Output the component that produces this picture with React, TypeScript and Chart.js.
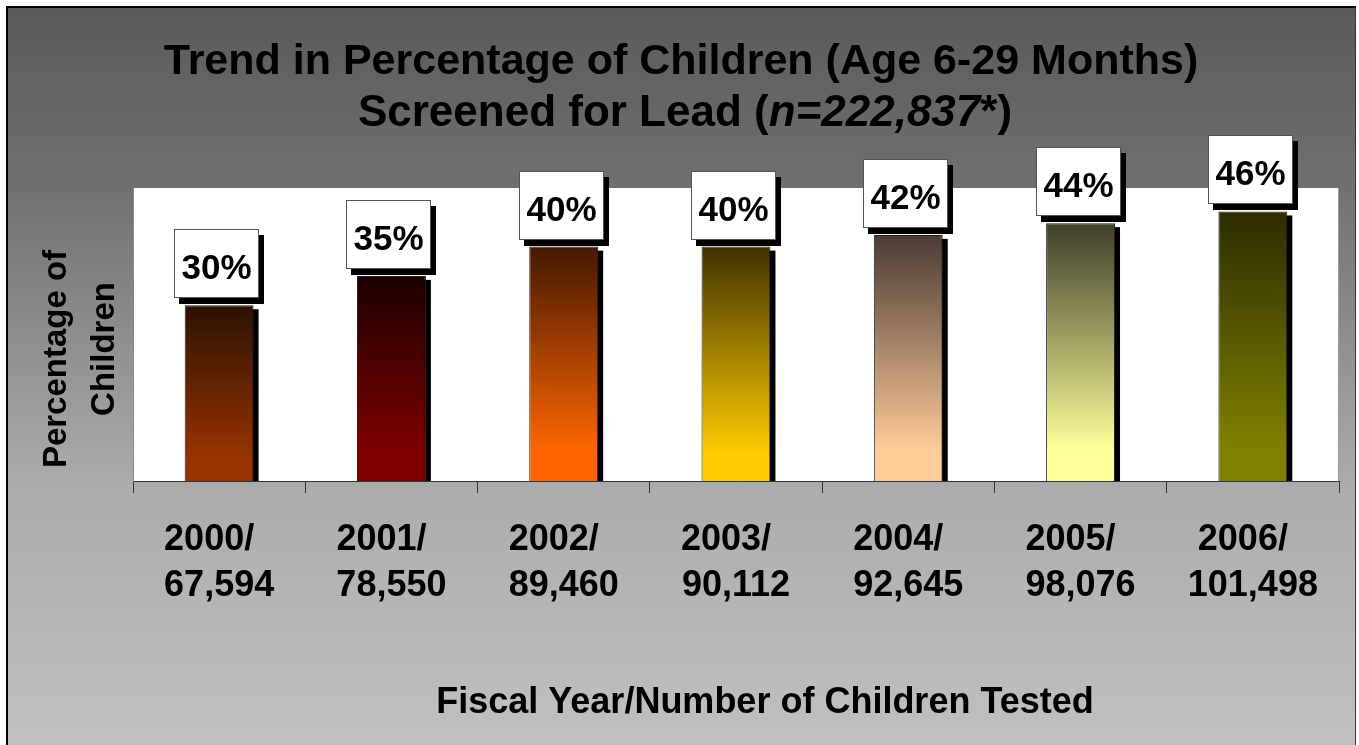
import React, { useEffect, useRef } from 'react';
import { Chart, registerables } from 'chart.js';

Chart.register(...registerables);

// ---- Data ----
const fiscalYears = ['2000', '2001', '2002', '2003', '2004', '2005', '2006'];
const childrenTested = ['67,594', '78,550', '89,460', '90,112', '92,645', '98,076', '101,498'];
const percentScreened = [30, 35, 40, 40, 42, 44, 46];
const barTopColors = ['#2b1200', '#1c0000', '#451800', '#3f3200', '#4a3a34', '#3e3e2a', '#2c2c00'];
const barBottomColors = ['#993300', '#800000', '#ff6600', '#ffcc00', '#ffcc99', '#ffff99', '#808000'];
const yMin = 0;
const yMax = 50;

const titleLine1 = 'Trend in Percentage of Children (Age 6-29 Months)';
const titleLine2Start = 'Screened for Lead (';
const titleLine2Italic = 'n=222,837';
const titleLine2End = '*)';
const yAxisTitle = ['Percentage of', 'Children'];
const xAxisTitle = 'Fiscal Year/Number of Children Tested';

const tickLabels = fiscalYears.map((y, i) => [y + '/  ', childrenTested[i]]);

const FONT = '"Liberation Sans", Arial, Helvetica, sans-serif';
const font = (size: number, italic = false) => `${italic ? 'italic ' : ''}bold ${size}px ${FONT}`;

const CANVAS_W = 1347;
const CANVAS_H = 737;

const decorPlugin = {
  id: 'decor',
  beforeDraw(chart: any) {
    const { ctx, width, height, chartArea } = chart;
    ctx.save();
    const g = ctx.createLinearGradient(0, 0, 0, height);
    g.addColorStop(0, '#5a5a5a');
    g.addColorStop(0.244, '#707070');
    g.addColorStop(0.642, '#ababab');
    g.addColorStop(0.94, '#bdbdbd');
    g.addColorStop(1, '#c0c0c0');
    ctx.fillStyle = g;
    ctx.fillRect(0, 0, width, height);
    ctx.fillStyle = '#ffffff';
    ctx.fillRect(chartArea.left, chartArea.top, chartArea.right - chartArea.left, chartArea.bottom - chartArea.top);
    ctx.strokeStyle = '#9a9a9a';
    ctx.lineWidth = 1;
    ctx.beginPath();
    ctx.moveTo(chartArea.right - 0.5, chartArea.top);
    ctx.lineTo(chartArea.right - 0.5, chartArea.bottom);
    ctx.stroke();
    ctx.restore();
  },
  beforeDatasetsDraw(chart: any) {
    const { ctx } = chart;
    const meta = chart.getDatasetMeta(0);
    ctx.save();
    ctx.fillStyle = '#000000';
    meta.data.forEach((bar: any) => {
      const left = bar.x - bar.width / 2;
      ctx.fillRect(left + 5, bar.y + 4, bar.width, bar.base - bar.y - 4);
    });
    ctx.restore();
  },
  afterDatasetsDraw(chart: any) {
    const { ctx } = chart;
    const meta = chart.getDatasetMeta(0);
    const boxW = 85;
    const boxH = 69;
    ctx.save();
    meta.data.forEach((bar: any, i: number) => {
      const cx = bar.x - 2.5;
      const left = Math.round(cx - boxW / 2);
      const top = Math.round(bar.y - 7 - boxH);
      ctx.fillStyle = '#000000';
      ctx.fillRect(left + 5, top + 6, boxW, boxH);
      ctx.fillStyle = '#ffffff';
      ctx.fillRect(left, top, boxW, boxH);
      ctx.strokeStyle = '#555555';
      ctx.lineWidth = 1;
      ctx.strokeRect(left + 0.5, top + 0.5, boxW - 1, boxH - 1);
      ctx.fillStyle = '#000000';
      ctx.font = font(35);
      ctx.textAlign = 'center';
      ctx.textBaseline = 'alphabetic';
      ctx.fillText(percentScreened[i] + '%', left + boxW / 2, top + 49.5);
    });
    ctx.restore();
  },
  afterDraw(chart: any) {
    const { ctx } = chart;
    ctx.save();
    ctx.fillStyle = '#000000';
    ctx.textBaseline = 'alphabetic';
    // main title
    const cx = 673;
    ctx.textAlign = 'center';
    ctx.font = font(43);
    ctx.fillText(titleLine1, cx, 66);
    ctx.textAlign = 'left';
    ctx.font = font(44);
    const w1 = ctx.measureText(titleLine2Start).width;
    const w3 = ctx.measureText(titleLine2End).width;
    ctx.font = font(44, true);
    const w2 = ctx.measureText(titleLine2Italic).width;
    let x = cx + 4 - (w1 + w2 + w3) / 2;
    ctx.font = font(44);
    ctx.fillText(titleLine2Start, x, 118);
    x += w1;
    ctx.font = font(44, true);
    ctx.fillText(titleLine2Italic, x, 118);
    x += w2;
    ctx.font = font(44);
    ctx.fillText(titleLine2End, x, 118);

    // y axis title (rotated)
    ctx.font = font(33);
    ctx.textAlign = 'center';
    const yTitlePos = [
      { x: 58, y: 351 },
      { x: 106, y: 341 },
    ];
    yAxisTitle.forEach((line, i) => {
      ctx.save();
      ctx.translate(yTitlePos[i].x, yTitlePos[i].y);
      ctx.rotate(-Math.PI / 2);
      ctx.fillText(line, 0, 0);
      ctx.restore();
    });

    // x axis title
    ctx.font = font(36);
    ctx.textAlign = 'center';
    ctx.fillText(xAxisTitle, 757, 705);
    ctx.restore();
  },
};

export default function App() {
  const ref = useRef<HTMLCanvasElement>(null);
  useEffect(() => {
    const canvas = ref.current;
    if (!canvas) return;
    const chart = new Chart(canvas, {
      type: 'bar',
      data: {
        labels: tickLabels,
        datasets: [
          {
            data: percentScreened,
            backgroundColor: (c: any) => {
              const i = c.dataIndex;
              const ch = c.chart;
              if (!ch.chartArea || c.type !== 'data' || !ch.scales.y) return barBottomColors[i];
              const ys = ch.scales.y;
              const top = ys.getPixelForValue(percentScreened[i]);
              const base = ys.getPixelForValue(0);
              const g = ch.ctx.createLinearGradient(0, top, 0, base);
              g.addColorStop(0, barTopColors[i]);
              g.addColorStop(0.88, barBottomColors[i]);
              g.addColorStop(1, barBottomColors[i]);
              return g;
            },
            borderColor: '#222222',
            borderWidth: 1,
            barPercentage: 0.4,
            categoryPercentage: 1,
          },
        ],
      },
      options: {
        responsive: false,
        animation: false,
        devicePixelRatio: 1,
        layout: { padding: { top: 180, left: 0, right: 16, bottom: 0 } },
        plugins: {
          legend: { display: false },
          title: { display: false },
          tooltip: { enabled: false },
        },
        scales: {
          x: {
            offset: true,
            grid: {
              display: true,
              drawOnChartArea: false,
              drawTicks: true,
              tickLength: 12,
              color: '#333333',
              offset: true,
            },
            border: { display: true, color: '#333333', width: 1 },
            ticks: {
              color: '#000000',
              font: { family: FONT, size: 36, weight: 'bold', lineHeight: 1.28 },
              padding: 24,
              maxRotation: 0,
              minRotation: 0,
              autoSkip: false,
            },
            afterFit: (s: any) => {
              s.height = 264;
              s.paddingLeft = 0;
              s.paddingRight = 0;
            },
          },
          y: {
            min: yMin,
            max: yMax,
            grid: { display: false },
            border: { display: true, color: '#888888', width: 1 },
            ticks: { display: false },
            afterFit: (s: any) => {
              s.width = 125;
            },
          },
        },
      },
      plugins: [decorPlugin],
    } as any);
    return () => chart.destroy();
  }, []);

  return (
    <div
      style={{
        position: 'fixed',
        left: 6,
        top: 6,
        width: 1350,
        height: 739,
        boxSizing: 'border-box',
        borderLeft: '2px solid #000',
        borderTop: '2px solid #000',
        borderRight: '1px solid #333',
        overflow: 'hidden',
      }}
    >
      <canvas ref={ref} width={CANVAS_W} height={CANVAS_H} style={{ display: 'block', width: CANVAS_W, height: CANVAS_H }} />
    </div>
  );
}
